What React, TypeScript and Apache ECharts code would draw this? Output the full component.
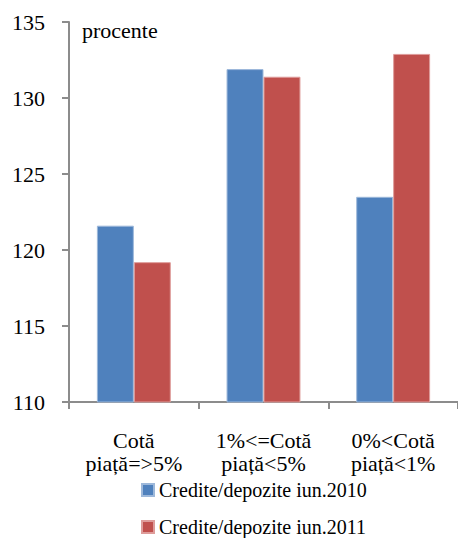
import React, { useEffect, useRef } from "react";
import * as echarts from "echarts";

const categories = ["Cotă\npiață=>5%", "1%<=Cotă\npiață<5%", "0%<Cotă\npiață<1%"];
const series2010 = [121.6, 131.9, 123.5];
const series2011 = [119.2, 131.4, 132.9];
const seriesNames = ["Credite/depozite iun.2010", "Credite/depozite iun.2011"];
const yMin = 110;
const yMax = 135;
const yInterval = 5;

const FONT = "Liberation Serif";

export default function App() {
  const ref = useRef<HTMLDivElement>(null);
  useEffect(() => {
    if (!ref.current) return;
    const chart = echarts.init(ref.current, null, { renderer: "svg" });
    const legendText = { fontFamily: FONT, fontSize: 20, color: "#000" };
    chart.setOption({
      animation: false,
      textStyle: { fontFamily: FONT },
      grid: { left: 69, right: 0, top: 22, bottom: 136, containLabel: false },
      legend: [
        {
          left: 136,
          top: 475,
          itemWidth: 12,
          itemHeight: 12,
          itemGap: 4,
          icon: "rect",
          textStyle: legendText,
          data: [seriesNames[0]],
        },
        {
          left: 136,
          top: 512,
          itemWidth: 12,
          itemHeight: 12,
          itemGap: 4,
          icon: "rect",
          textStyle: legendText,
          data: [seriesNames[1]],
        },
      ],
      graphic: [
        {
          type: "text",
          left: 82,
          top: 19,
          style: { text: "procente", fontFamily: FONT, fontSize: 22, fill: "#000" },
        },
      ],
      xAxis: {
        type: "category",
        data: categories,
        axisLine: { lineStyle: { color: "#8c8c8c", width: 2 } },
        axisTick: { show: true, inside: false, length: 7, lineStyle: { color: "#8c8c8c", width: 2 } },
        axisLabel: {
          fontFamily: FONT,
          fontSize: 22,
          color: "#000",
          margin: 27,
          lineHeight: 23,
          interval: 0,
        },
      },
      yAxis: {
        type: "value",
        min: yMin,
        max: yMax,
        interval: yInterval,
        splitLine: { show: false },
        axisLine: { show: true, lineStyle: { color: "#8c8c8c", width: 2 } },
        axisTick: { show: true, inside: false, length: 7, lineStyle: { color: "#8c8c8c", width: 2 } },
        axisLabel: { fontFamily: FONT, fontSize: 22, color: "#000", margin: 24 },
      },
      series: [
        {
          name: seriesNames[0],
          type: "bar",
          data: series2010,
          barGap: "0%",
          barCategoryGap: "43%",
          itemStyle: { color: "#4F81BD", borderColor: "#9DB8DA", borderWidth: 1 },
        },
        {
          name: seriesNames[1],
          type: "bar",
          data: series2011,
          barGap: "0%",
          barCategoryGap: "43%",
          itemStyle: { color: "#C0504D", borderColor: "#DE9C9A", borderWidth: 1 },
        },
      ],
    });
    return () => chart.dispose();
  }, []);
  return <div ref={ref} style={{ width: 458, height: 538, position: "absolute", left: 0, top: 0 }} />;
}
